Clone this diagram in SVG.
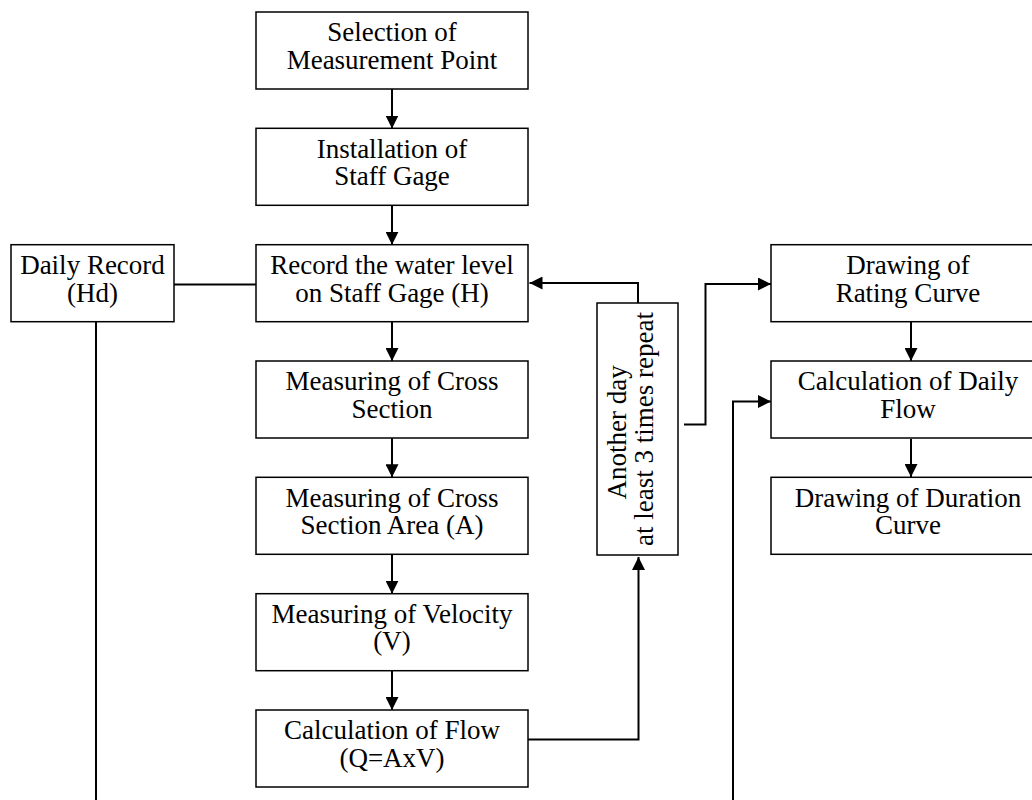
<svg xmlns="http://www.w3.org/2000/svg" width="1032" height="800" viewBox="0 0 1032 800">
  <style>
    .box { fill: #ffffff; stroke: #000000; stroke-width: 1.5; }
    .lbl { font-family: "Liberation Serif", "Times New Roman", serif; font-size: 27px; fill: #000000; text-anchor: middle; }
    .wire { fill: none; stroke: #000000; stroke-width: 2; }
    .arrow { marker-end: url(#head); }
  </style>
  <defs>
    <marker id="head" markerUnits="userSpaceOnUse" markerWidth="13" markerHeight="13" refX="13" refY="6.5" orient="auto">
      <path d="M0,0 L13,6.5 L0,13 Z" fill="#000000"/>
    </marker>
  </defs>

  <rect width="1032" height="800" fill="#ffffff"/>

  <!-- connectors -->
  <g id="connectors">
    <!-- main column, top to bottom -->
    <line class="wire arrow" x1="392" y1="89" x2="392" y2="128.5"/>
    <line class="wire arrow" x1="392" y1="205.5" x2="392" y2="244.8"/>
    <line class="wire arrow" x1="392" y1="322" x2="392" y2="361"/>
    <line class="wire arrow" x1="392" y1="438" x2="392" y2="477.3"/>
    <line class="wire arrow" x1="392" y1="554.5" x2="392" y2="593.7"/>
    <line class="wire arrow" x1="392" y1="671" x2="392" y2="710"/>
    <!-- daily record links -->
    <line class="wire" x1="174" y1="284.5" x2="256" y2="284.5"/>
    <line class="wire" x1="96" y1="322" x2="96" y2="800"/>
    <!-- repeat loop -->
    <polyline class="wire arrow" points="528,739.5 638.5,739.5 638.5,557"/>
    <polyline class="wire arrow" points="638,303 638,283 529.5,283"/>
    <polyline class="wire arrow" points="684,424.5 705.5,424.5 705.5,284 771,284"/>
    <polyline class="wire arrow" points="733,800 733,401.5 771,401.5"/>
    <!-- right column -->
    <line class="wire arrow" x1="911" y1="322" x2="911" y2="361"/>
    <line class="wire arrow" x1="911" y1="439" x2="911" y2="477"/>
  </g>

  <g id="n-selection">
    <rect class="box" x="256" y="12" width="272" height="77"/>
    <text class="lbl" x="392" y="41">Selection of</text>
    <text class="lbl" x="392" y="68.5">Measurement Point</text>
  </g>
  <g id="n-installation">
    <rect class="box" x="256" y="128.3" width="272" height="77"/>
    <text class="lbl" x="392" y="157.6">Installation of</text>
    <text class="lbl" x="392" y="185">Staff Gage</text>
  </g>
  <g id="n-record">
    <rect class="box" x="256" y="244.7" width="272" height="77"/>
    <text class="lbl" x="392" y="274.3">Record the water level</text>
    <text class="lbl" x="392" y="301.7">on Staff Gage (H)</text>
  </g>
  <g id="n-cross-section">
    <rect class="box" x="256" y="361" width="272" height="77"/>
    <text class="lbl" x="392" y="390.3">Measuring of Cross</text>
    <text class="lbl" x="392" y="417.7">Section</text>
  </g>
  <g id="n-area">
    <rect class="box" x="256" y="477.3" width="272" height="77"/>
    <text class="lbl" x="392" y="506.6">Measuring of Cross</text>
    <text class="lbl" x="392" y="534">Section Area (A)</text>
  </g>
  <g id="n-velocity">
    <rect class="box" x="256" y="593.7" width="272" height="77"/>
    <text class="lbl" x="392" y="623">Measuring of Velocity</text>
    <text class="lbl" x="392" y="650.4">(V)</text>
  </g>
  <g id="n-flow">
    <rect class="box" x="256" y="710" width="272" height="77"/>
    <text class="lbl" x="392" y="739.3">Calculation of Flow</text>
    <text class="lbl" x="392" y="766.7">(Q=AxV)</text>
  </g>
  <g id="n-daily-record">
    <rect class="box" x="11" y="244.7" width="163" height="77"/>
    <text class="lbl" x="92.5" y="274.3">Daily Record</text>
    <text class="lbl" x="92.5" y="301.7">(Hd)</text>
  </g>
  <g id="n-repeat">
    <rect class="box" x="597" y="303" width="81" height="252"/>
    <text class="lbl" transform="translate(637,429) rotate(-90)">
      <tspan x="0" y="-11">Another day</tspan>
      <tspan x="0" y="16">at least 3 times repeat</tspan>
    </text>
  </g>
  <g id="n-rating">
    <rect class="box" x="771" y="244.7" width="275" height="77"/>
    <text class="lbl" x="908" y="274.3">Drawing of</text>
    <text class="lbl" x="908" y="301.7">Rating Curve</text>
  </g>
  <g id="n-daily-flow">
    <rect class="box" x="771" y="361" width="275" height="77"/>
    <text class="lbl" x="908" y="390.3">Calculation of Daily</text>
    <text class="lbl" x="908" y="417.7">Flow</text>
  </g>
  <g id="n-duration">
    <rect class="box" x="771" y="477.3" width="275" height="77"/>
    <text class="lbl" x="908" y="506.6">Drawing of Duration</text>
    <text class="lbl" x="908" y="534">Curve</text>
  </g>
</svg>
